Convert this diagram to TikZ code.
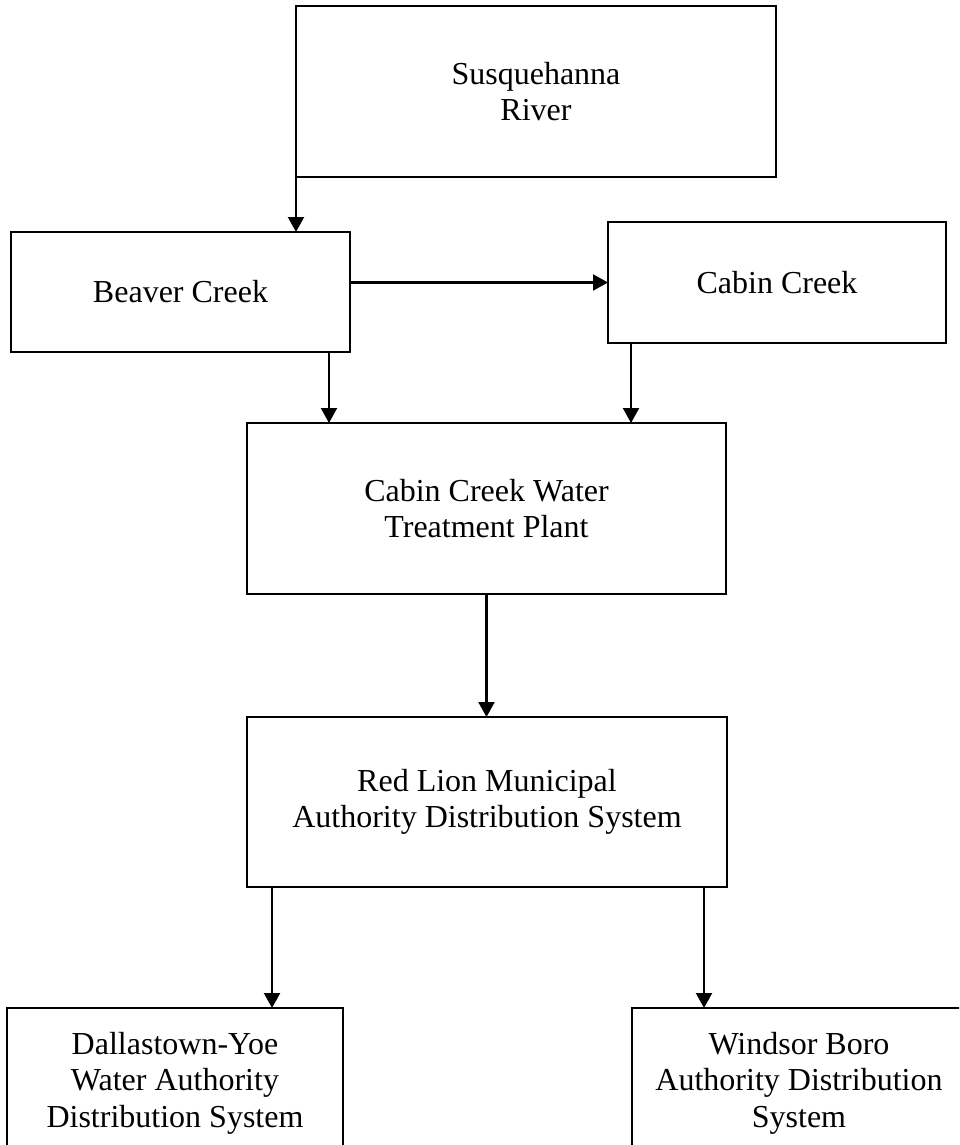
\documentclass[tikz,border=0pt]{standalone}
\usepackage{fontspec}
\setmainfont{Liberation Serif}
\usetikzlibrary{arrows.meta}

\begin{document}
\begin{tikzpicture}[x=1pt,y=1pt,>={Triangle[width=8pt,length=7.5pt]},line width=1.1pt,
  box/.style={draw,inner sep=0pt,outer sep=0pt,align=center,font=\fontsize{16pt}{18.3pt}\selectfont}]
\useasboundingbox (0,0) rectangle (479.5,-572.5);
\clip (0,0) rectangle (479.5,-572.5);

\node[box,minimum width=240pt,minimum height=85.5pt] (river) at (268,-45.75) {Susquehanna\\River};
\node[box,minimum width=169.5pt,minimum height=60pt] (beaver) at (90.25,-146) {Beaver Creek};
\node[box,minimum width=169pt,minimum height=60.5pt] (cabin) at (388.5,-141.25) {Cabin Creek};
\node[box,minimum width=239.5pt,minimum height=85.5pt] (plant) at (243.25,-254.25) {Cabin Creek Water\\Treatment Plant};
\node[box,minimum width=240pt,minimum height=85pt] (redlion) at (243.5,-401) {Red Lion Municipal\\Authority Distribution System};
\node[box,minimum width=168pt,minimum height=75pt] (dallas) at (87.5,-541.5) {Dallastown-Yoe\\Water Authority\\Distribution System};
\node[box,minimum width=167pt,minimum height=75pt] (windsor) at (399.5,-541.5) {Windsor Boro\\Authority Distribution\\System};

\coordinate (bp) at ([xshift=-10.5pt]beaver.south east);
\coordinate (cp) at ([xshift=11.5pt]cabin.south west);
\coordinate (rd) at ([xshift=12.5pt]redlion.south west);
\coordinate (rw) at ([xshift=-11.5pt]redlion.south east);

\draw[->] (river.south west) -- (river.south west |- beaver.north);
\draw[->] (beaver.east |- cabin.west) -- (cabin.west);
\draw[->] (bp) -- (bp |- plant.north);
\draw[->] (cp) -- (cp |- plant.north);
\draw[->] (plant.south) -- (plant.south |- redlion.north);
\draw[->] (rd) -- (rd |- dallas.north);
\draw[->] (rw) -- (rw |- windsor.north);

\end{tikzpicture}
\end{document}
